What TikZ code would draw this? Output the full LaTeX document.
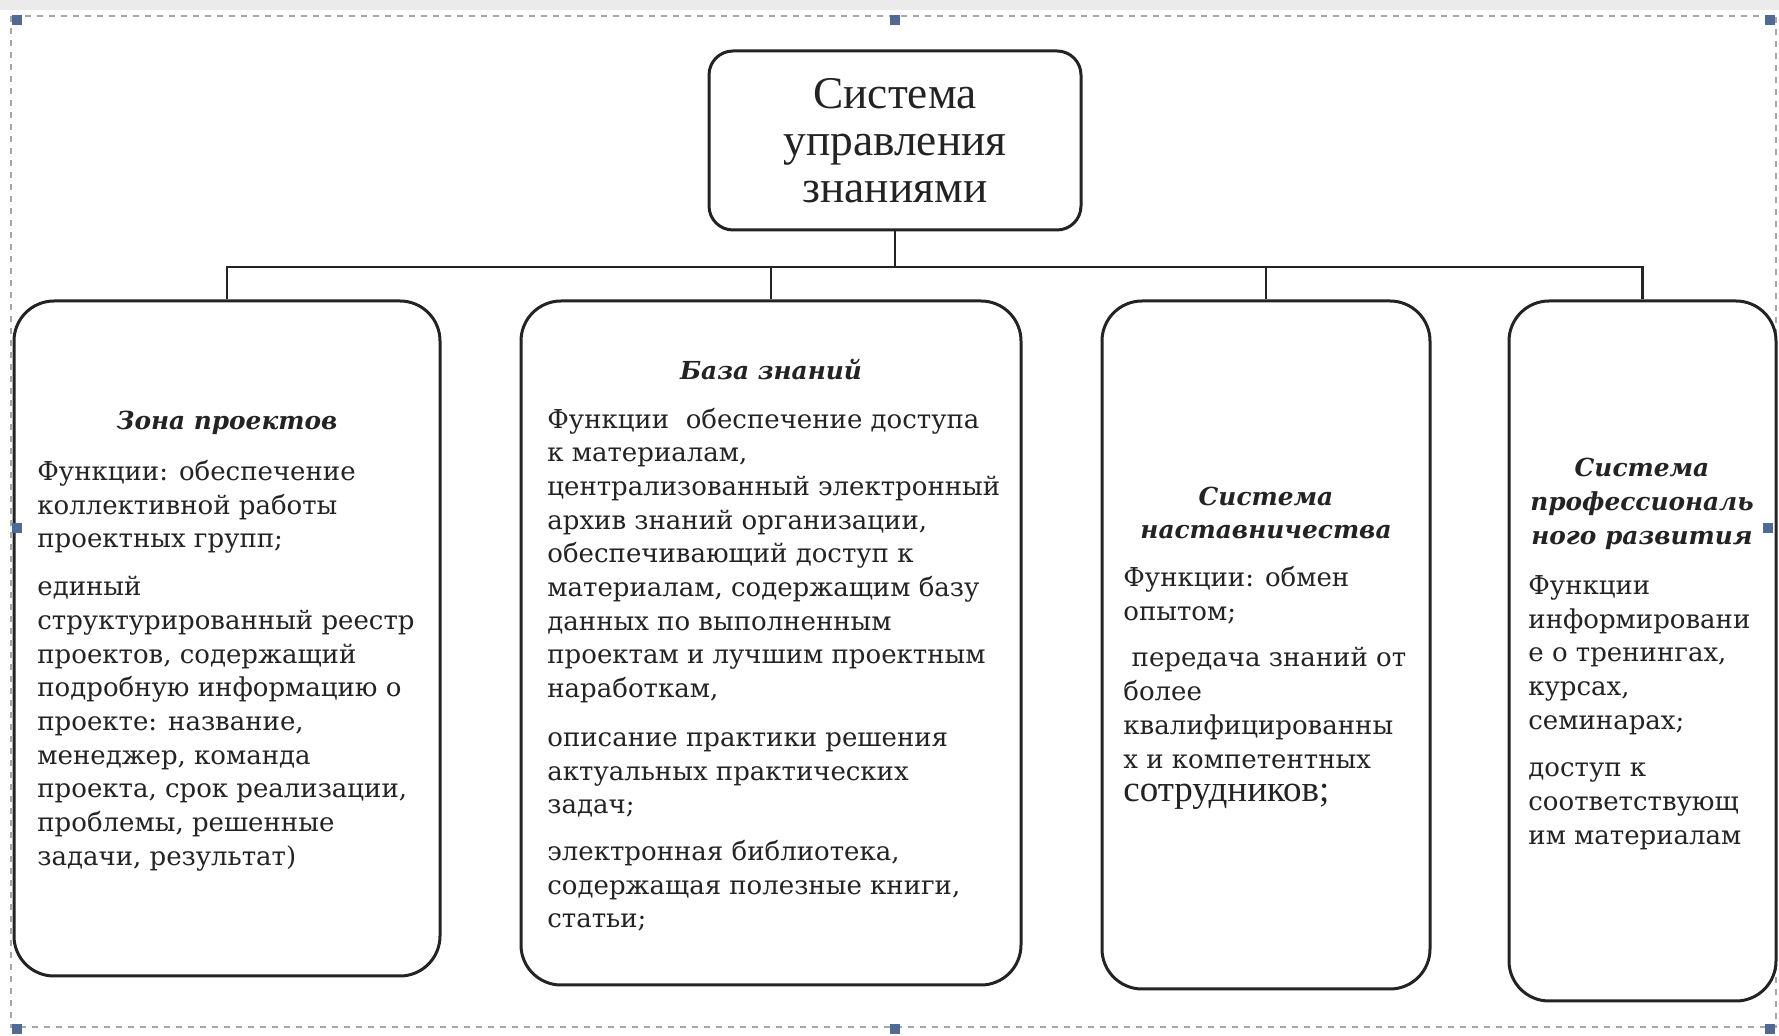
\documentclass[tikz,border=0pt]{standalone}
\usepackage{fontspec}
\setmainfont{DejaVu Serif}
\newfontfamily\timesf{Liberation Serif}
\definecolor{handleblue}{RGB}{79,106,150}
\definecolor{ink}{RGB}{35,35,35}
\begin{document}
\begin{tikzpicture}[x=0.5pt,y=-0.5pt,
  box/.style={draw=ink, line width=1.5pt, rounded corners=20pt, inner sep=0pt, fill=white},
  topbox/.style={draw=ink, line width=1.5pt, rounded corners=12pt, inner sep=0pt, fill=white, align=center,
    font=\timesf\fontsize{22.7}{23.5}\selectfont, text=ink},
  conn/.style={draw=ink, line width=1.3pt},
  body/.style={anchor=north west, align=left, inner sep=0pt, font=\fontsize{13}{16.85}\selectfont, text=ink},
  ttl/.style={anchor=center, align=center, inner sep=0pt, font=\fontsize{12.4}{16.85}\selectfont\bfseries\itshape, text=ink},
  handle/.style={fill=handleblue, draw=none, minimum size=5pt, inner sep=0pt}]
\useasboundingbox (0,0) rectangle (1779,1036);
\fill[black!8] (0,0) rectangle (1779,10);
\draw[gray!70, dashed, line width=0.6pt] (11,16) rectangle (1776,1027);

% boxes
\node[topbox, minimum width=186pt, minimum height=89.5pt] (top) at (895,140.5) {Система\\управления\\знаниями};
\node[box, minimum width=213pt, minimum height=337.5pt] (b1) at (227,638.5) {};
\node[box, minimum width=250pt, minimum height=342pt] (b2) at (771,643) {};
\node[box, minimum width=164pt, minimum height=344pt] (b3) at (1266,645) {};
\node[box, minimum width=133.5pt, minimum height=350pt] (b4) at (1642.5,651) {};

% connectors
\coordinate (bus) at (0,267);
\draw[conn] (top.south) -- (top.south |- bus);
\draw[conn] (b1.north) -- (b1.north |- bus) -- (b4.north |- bus) -- (b4.north);
\draw[conn] (b2.north) -- (b2.north |- bus);
\draw[conn] (b3.north) -- (b3.north |- bus);

% box 1
\node[ttl] (t1) at (227,423) {Зона проектов};
\node[body] (x1) at (37,460) {Функции: обеспечение\\коллективной работы\\проектных групп;\\[7pt]
единый\\структурированный реестр\\проектов, содержащий\\подробную информацию о\\проекте: название,\\менеджер, команда\\проекта, срок реализации,\\проблемы, решенные\\задачи, результат)};

% box 2
\node[ttl] (t2) at (771,370) {База знаний};
\node[body] (x2) at (547,407.5) {Функции\ \ обеспечение доступа\\к материалам,\\централизованный электронный\\архив знаний организации,\\обеспечивающий доступ к\\материалам, содержащим базу\\данных по выполненным\\проектам и лучшим проектным\\наработкам,\\[7.5pt]
описание практики решения\\актуальных практических\\задач;\\[6.5pt]
электронная библиотека,\\содержащая полезные книги,\\статьи;};

% box 3
\node[ttl] (t3) at (1266,513) {Система\\наставничества};
\node[body] (x3) at (1123,566) {Функции: обмен\\опытом;\\[6.5pt]
\ передача знаний от\\более\\квалифицированны\\х и компетентных\\{\timesf\fontsize{18.5}{18.5}\selectfont сотрудников;}};

% box 4
\node[ttl] (t4) at (1642,504) {Система\\профессиональ\\ного развития};
\node[body] (x4) at (1528,575) {Функции\\информировани\\е о тренингах,\\курсах,\\семинарах;\\[7pt]
доступ к\\соответствующ\\им материалам};

% selection handles
\node[handle] (h1) at (17,20) {};
\node[handle] (h2) at (895,20) {};
\node[handle] (h3) at (1770,20) {};
\node[handle] (h4) at (17,528) {};
\node[handle] (h5) at (1768,528) {};
\node[handle] (h6) at (17,1029) {};
\node[handle] (h7) at (895,1029) {};
\node[handle] (h8) at (1770,1029) {};
\end{tikzpicture}
\end{document}
